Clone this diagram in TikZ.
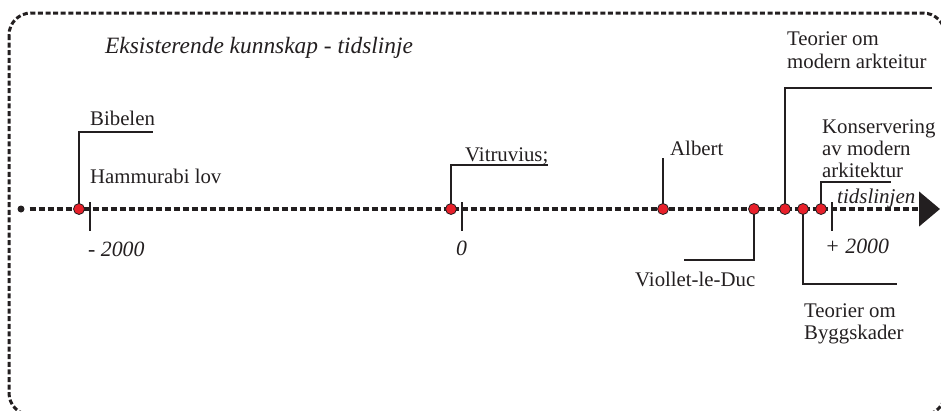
\documentclass[tikz,border=0pt]{standalone}
\usepackage{fontspec}
\setmainfont{Liberation Serif}
\usetikzlibrary{arrows.meta}
\definecolor{ink}{HTML}{231F20}
\definecolor{evred}{HTML}{E8202A}

\begin{document}
\begin{tikzpicture}[x=1pt,y=-1pt,
  frame/.style={draw=ink,line width=3pt,dash pattern=on 5pt off 2.6pt,rounded corners=22pt},
  timeline/.style={draw=ink,line width=4.6pt,dash pattern=on 6pt off 3pt},
  leader/.style={draw=ink,line width=1.8pt},
  tickmark/.style={draw=ink,line width=2pt},
  event/.style={circle,fill=evred,draw=ink,line width=0.8pt,minimum size=11pt,inner sep=0pt},
  origin/.style={circle,fill=ink,minimum size=7pt,inner sep=0pt},
  lbl/.style={inner sep=0pt,anchor=base west,text=ink,font=\fontsize{20.8}{23}\selectfont},
  ilbl/.style={lbl,font=\fontsize{21.8}{23}\selectfont\itshape}]
\useasboundingbox (0,0) rectangle (941,410);

% outer dashed frame
\draw[frame] (9,13) rectangle (945,415);

% title
\node[ilbl,font=\fontsize{23.4}{26}\selectfont\itshape] (title) at (105,53) {Eksisterende kunnskap - tidslinje};

% time axis
\node[origin] (o) at (21,209) {};
\coordinate (tip) at (940,209);
\draw[timeline,shorten <=5pt,-{Triangle[length=21pt,width=34pt]}] (o) -- (tip);

% event positions on the axis
\coordinate (pBib) at (79,209);
\coordinate (pVit) at (451,209);
\coordinate (pAlb) at (663,209);
\coordinate (pVio) at (754,209);
\coordinate (pMod) at (785,209);
\coordinate (pByg) at (803,209);
\coordinate (pKon) at (821,209);

% scale ticks
\coordinate (tA) at (90,202);
\coordinate (tB) at (462,202);
\coordinate (tC) at (832,202);
\draw[tickmark] (tA) -- ++(0,29);
\draw[tickmark] (tB) -- ++(0,29);
\draw[tickmark] (tC) -- ++(0,29);

% scale labels
\node[ilbl] (ym) at (88,256) {- 2000};
\node[ilbl] (y0) at (456,255) {0};
\node[ilbl] (yp) at (825,253) {+ 2000};
\node[ilbl,font=\fontsize{21}{23}\selectfont\itshape] (axis) at (837,203) {tidslinjen};

% event labels
\node[lbl] (bib) at (90,125) {Bibelen};
\node[lbl] (ham) at (90,183) {Hammurabi lov};
\node[lbl] (vit) at (465,161) {Vitruvius;};
\node[lbl] (alb) at (670,155) {Albert};
\node[lbl] (vio) at (635,286) {Viollet-le-Duc};
\node[lbl] (mod) at (787,45) {\begin{tabular}[t]{@{}l@{}}Teorier om\\modern arkteitur\end{tabular}};
\node[lbl,font=\fontsize{20.8}{22}\selectfont] (kon) at (822,133) {\begin{tabular}[t]{@{}l@{}}Konservering\\av modern\\arkitektur\end{tabular}};
\node[lbl,font=\fontsize{20.8}{22}\selectfont] (byg) at (804,317) {\begin{tabular}[t]{@{}l@{}}Teorier om\\Byggskader\end{tabular}};

% leader lines
\coordinate (eBib) at (153,132);
\coordinate (eVit) at (548,165);
\coordinate (eAlb) at (663,158);
\coordinate (eVio) at (684,260);
\coordinate (eMod) at (932,88);
\coordinate (eByg) at (897,284);
\coordinate (eKon) at (891,182);
\draw[leader] (pBib) |- (eBib);
\draw[leader] (pVit) |- (eVit);
\draw[leader] (pAlb) -- (eAlb);
\draw[leader] (pVio) |- (eVio);
\draw[leader] (pMod) |- (eMod);
\draw[leader] (pByg) |- (eByg);
\draw[leader] (pKon) |- (eKon);

% event markers
\node[event] (dBib) at (pBib) {};
\node[event] (dVit) at (pVit) {};
\node[event] (dAlb) at (pAlb) {};
\node[event] (dVio) at (pVio) {};
\node[event] (dMod) at (pMod) {};
\node[event] (dByg) at (pByg) {};
\node[event] (dKon) at (pKon) {};
\end{tikzpicture}
\end{document}
